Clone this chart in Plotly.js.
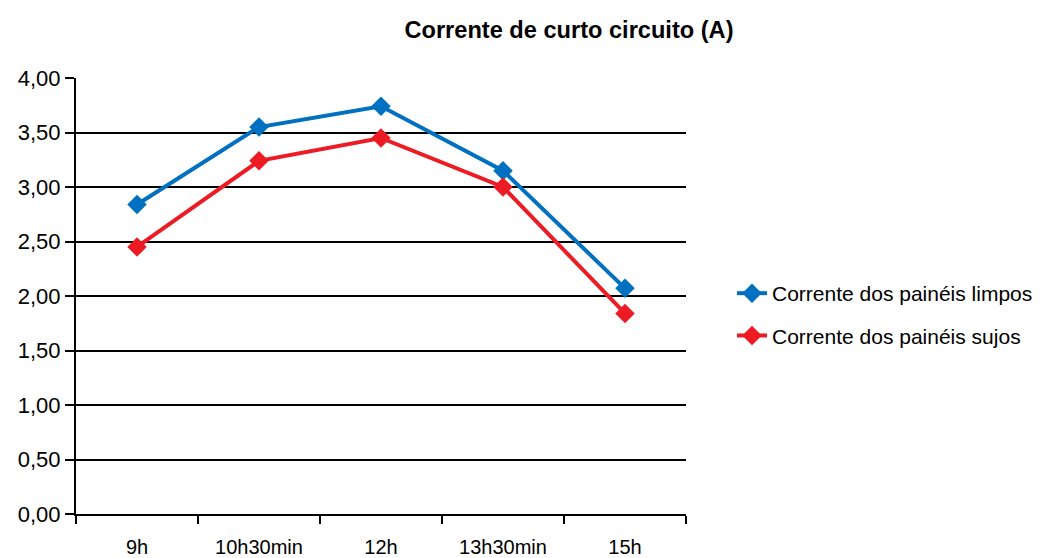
<!DOCTYPE html>
<html>
<head>
<meta charset="utf-8">
<script src="https://cdn.plot.ly/plotly-3.0.1.min.js"></script>
<style>html,body{margin:0;padding:0;background:#fff;}#chart{width:1044px;height:558px;}</style>
</head>
<body>
<div id="chart"></div>
<script>
const categories = ["9h", "10h30min", "12h", "13h30min", "15h"];
const limpos = [2.84, 3.55, 3.74, 3.15, 2.07];
const sujos = [2.45, 3.24, 3.45, 3.00, 1.84];
const seriesNames = ["Corrente dos painéis limpos", "Corrente dos painéis sujos"];
const chartTitle = "Corrente de curto circuito (A)";

const font = "Liberation Sans, Arial, sans-serif";
const traces = [
  {x: categories, y: limpos, name: seriesNames[0], type: "scatter", mode: "lines+markers",
   line: {color: "#0070C0", width: 4}, marker: {symbol: "diamond", size: 15, color: "#0070C0"}, legendgroup: "a"},
  {x: categories, y: sujos, name: seriesNames[1], type: "scatter", mode: "lines+markers",
   line: {color: "#ED1C24", width: 4}, marker: {symbol: "diamond", size: 15, color: "#ED1C24"}, legendgroup: "b"}
];
const layout = {
  width: 1044, height: 558,
  margin: {l: 76, r: 358, t: 78, b: 44},
  paper_bgcolor: "#fff", plot_bgcolor: "#fff",
  font: {family: font, size: 20, color: "#000"},
  separators: ",.",
  title: {text: "<b>" + chartTitle + "</b>", x: 569/1044, xref: "container", xanchor: "center",
          y: 1 - 30/558, yref: "container", yanchor: "middle", font: {family: font, size: 23.6, color: "#000"}},
  xaxis: {type: "category", range: [-0.5, 4.5], tickson: "boundaries", ticks: "outside", ticklen: 8,
          tickcolor: "#000", tickwidth: 2, showline: true, linecolor: "#000", linewidth: 2,
          showgrid: false, zeroline: false, tickfont: {size: 20}, ticklabelstandoff: 14, fixedrange: true},
  yaxis: {range: [0, 4], dtick: 0.5, tick0: 0, tickformat: ".2f", ticks: "outside", ticklen: 9,
          tickcolor: "#000", tickwidth: 2, showline: true, linecolor: "#000", linewidth: 2,
          showgrid: true, gridcolor: "#000", gridwidth: 2, zeroline: false, tickfont: {size: 22}, fixedrange: true},
  showlegend: true,
  legend: {x: 732/1044, xref: "container", y: 1 - 273/558, yref: "container", xanchor: "left", yanchor: "top",
           traceorder: "grouped", tracegroupgap: 12, font: {size: 21}, bgcolor: "rgba(0,0,0,0)"}
};
Plotly.newPlot("chart", traces, layout, {displayModeBar: false, staticPlot: true});
</script>
</body>
</html>
